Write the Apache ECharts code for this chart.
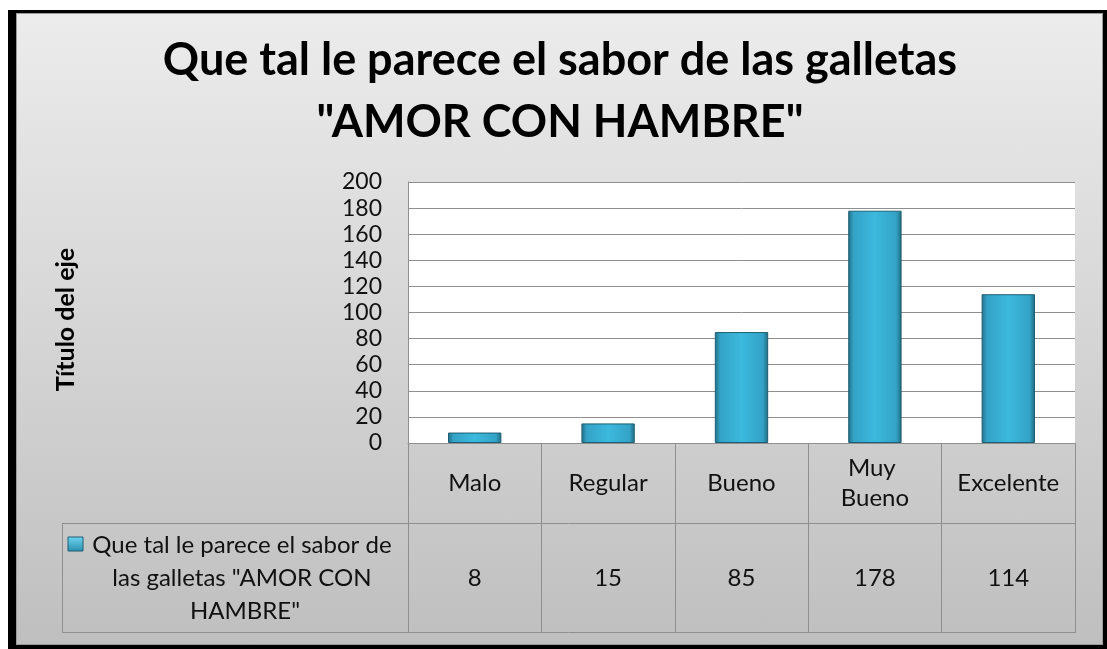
<!DOCTYPE html>
<html>
<head>
<meta charset="utf-8">
<script src="https://cdn.jsdelivr.net/npm/echarts@6/dist/echarts.min.js"></script>
<style>
  body { margin: 0; background: #fff; }
  #frame { position: absolute; left: 8px; top: 10px; width: 1099px; height: 639px; background: #000; }
  #inner { position: absolute; left: 16px; top: 13px; width: 1085px; height: 630px;
           border: 1px solid #9a9a9a; background: linear-gradient(#ececec, #bfbfbf); }
  #chart { position: absolute; left: 0; top: 0; width: 1107px; height: 649px; }
</style>
</head>
<body>
<div id="frame"></div>
<div id="inner"></div>
<div id="chart"></div>
<script>
const chartTitle = 'Que tal le parece el sabor de las galletas\n"AMOR CON HAMBRE"'
const seriesName = 'Que tal le parece el sabor de las galletas "AMOR CON HAMBRE"'
const axisTitle = 'Título del eje'
const categories = ['Malo', 'Regular', 'Bueno', 'Muy Bueno', 'Excelente']
const values = [8, 15, 85, 178, 114]
const yTicks = { min: 0, max: 200, interval: 20 }

const font = 'Lato'
const gridColor = '#8f8f8f'

const chart = echarts.init(document.getElementById('chart'))

// bevel-like look: dark edges, light body
const barColor = new echarts.graphic.LinearGradient(0, 0, 1, 0, [
  { offset: 0, color: '#246f86' },
  { offset: 0.1, color: '#33a3c6' },
  { offset: 0.5, color: '#3cb9de' },
  { offset: 0.9, color: '#33a3c6' },
  { offset: 1, color: '#226a80' }
])

const option = {
  animation: false,
  textStyle: { fontFamily: font },
  title: {
    text: chartTitle,
    left: 560,
    textAlign: 'center',
    top: 29,
    padding: 0,
    textStyle: { fontFamily: font, fontSize: 45, fontWeight: 'bold', color: '#000', lineHeight: 62 }
  },
  grid: { left: 408, right: 32, top: 182, bottom: 206, show: true, backgroundColor: '#fff', borderWidth: 0 },
  xAxis: [
    {
      type: 'category',
      data: categories,
      position: 'bottom',
      axisLine: { lineStyle: { color: gridColor, width: 1 } },
      axisTick: { show: true, alignWithLabel: false, interval: 0, length: 190, lineStyle: { color: gridColor } },
      axisLabel: {
        interval: 0, margin: 40, verticalAlign: 'middle', color: '#111',
        fontSize: 24, lineHeight: 30, width: 108, overflow: 'break'
      }
    },
    {
      type: 'category',
      data: values.map(String),
      position: 'bottom',
      axisLine: { show: false },
      axisTick: { show: false },
      axisLabel: { interval: 0, margin: 135, verticalAlign: 'middle', color: '#111', fontSize: 24 }
    }
  ],
  yAxis: {
    type: 'value',
    min: yTicks.min,
    max: yTicks.max,
    interval: yTicks.interval,
    name: axisTitle,
    nameLocation: 'middle',
    nameRotate: 90,
    nameGap: 330,
    nameTextStyle: { fontSize: 25, fontWeight: 'bold', color: '#000', fontFamily: font, padding: [0, 14, 0, 0] },
    axisLine: { show: true, lineStyle: { color: gridColor } },
    axisTick: { show: false },
    axisLabel: { margin: 26, fontSize: 23, color: '#111' },
    splitLine: { lineStyle: { color: gridColor, width: 1 } }
  },
  series: [{
    name: seriesName,
    type: 'bar',
    data: values,
    barWidth: '40%',
    itemStyle: { color: barColor, borderColor: '#1d5e72', borderWidth: 1 }
  }],
  graphic: [
    // data table: horizontal rules and legend cell border
    { type: 'line', shape: { x1: 62, y1: 523.5, x2: 1075, y2: 523.5 }, style: { stroke: gridColor, lineWidth: 1 } },
    { type: 'line', shape: { x1: 62, y1: 632.5, x2: 1075, y2: 632.5 }, style: { stroke: gridColor, lineWidth: 1 } },
    { type: 'line', shape: { x1: 62.5, y1: 523, x2: 62.5, y2: 633 }, style: { stroke: gridColor, lineWidth: 1 } },
    {
      type: 'rect', shape: { x: 68, y: 537, width: 15, height: 14 },
      style: {
        fill: new echarts.graphic.LinearGradient(0, 0, 0, 1, [
          { offset: 0, color: '#6fd6f2' }, { offset: 1, color: '#2a8fae' }
        ]),
        stroke: '#1d5e72', lineWidth: 1
      }
    },
    {
      type: 'text', x: 245, y: 578,
      style: {
        text: seriesName, width: 315, overflow: 'break',
        font: '24px ' + font, fill: '#111', align: 'center', verticalAlign: 'middle', lineHeight: 33
      }
    }
  ]
}

chart.setOption(option)
</script>
</body>
</html>
